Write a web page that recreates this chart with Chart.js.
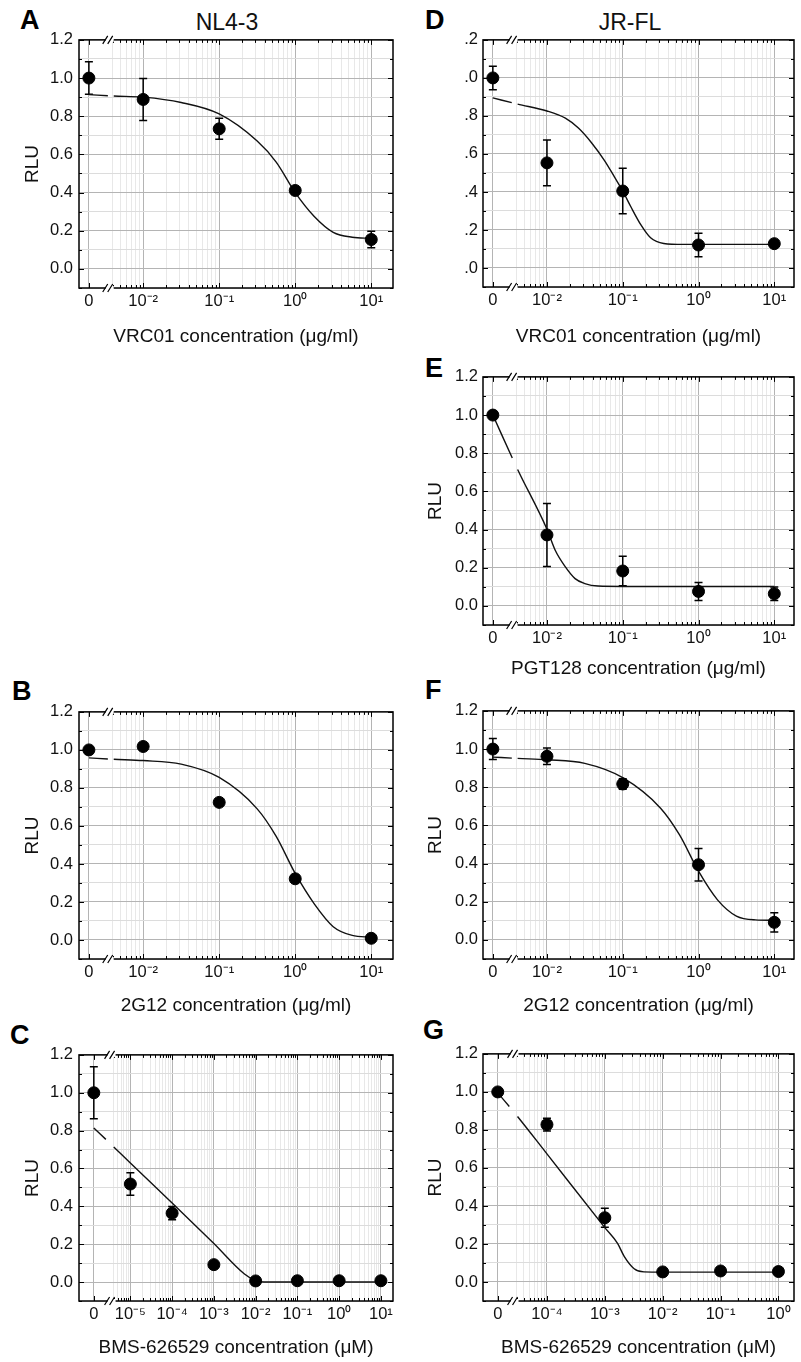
<!DOCTYPE html>
<html>
<head>
<meta charset="utf-8">
<script src="https://cdn.jsdelivr.net/npm/chart.js@4.4.1/dist/chart.umd.min.js"></script>
<style>
  body { margin: 0; background: #fff; width: 801px; height: 1362px; overflow: hidden; position: relative;
         font-family: "Liberation Sans", Arial, sans-serif; color: #111; }
  canvas { position: absolute; }
  .letter { position: absolute; font-weight: bold; font-size: 27px; line-height: 1; color: #000; }
  .strain { position: absolute; font-size: 23px; line-height: 1; transform: translateX(-50%); white-space: nowrap; }
</style>
</head>
<body>
<div class="letter" style="left:20px;top:6.5px">A</div>
<div class="letter" style="left:425px;top:6.5px">D</div>
<div class="letter" style="left:425px;top:354.5px">E</div>
<div class="letter" style="left:12px;top:678px">B</div>
<div class="letter" style="left:425px;top:676.5px">F</div>
<div class="letter" style="left:10px;top:1021.5px">C</div>
<div class="letter" style="left:423px;top:1016.5px">G</div>
<div class="strain" style="left:227px;top:11px">NL4-3</div>
<div class="strain" style="left:630px;top:11px">JR-FL</div>

<script>
// concentrations (0 = no inhibitor, shown left of the axis break)
const concMab = [0, 0.01, 0.1, 1, 10];               // µg/ml
const concBmsNL = [0, 1e-5, 1e-4, 1e-3, 1e-2, 1e-1, 1, 10]; // µM
const concBmsJR = [0, 1e-4, 1e-3, 1e-2, 1e-1, 1];    // µM

// NL4-3
const rluA = [1.00, 0.888, 0.734, 0.411, 0.154];
const errA = [0.085, 0.11, 0.055, 0.02, 0.043];
const rluB = [1.00, 1.018, 0.724, 0.322, 0.009];
const errB = [0, 0, 0, 0, 0];
const rluC = [1.00, 0.518, 0.364, 0.092, 0.006, 0.007, 0.007, 0.007];
const errC = [0.137, 0.06, 0.035, 0, 0, 0, 0, 0];

// JR-FL
const rluD = [1.00, 0.553, 0.405, 0.121, 0.128];
const errD = [0.062, 0.12, 0.12, 0.062, 0];
const rluE = [1.00, 0.372, 0.183, 0.076, 0.064];
const errE = [0, 0.165, 0.077, 0.047, 0.035];
const rluF = [1.00, 0.962, 0.817, 0.394, 0.092];
const errF = [0.055, 0.043, 0.027, 0.085, 0.05];
const rluG = [1.00, 0.828, 0.338, 0.053, 0.058, 0.055];
const errG = [0, 0.033, 0.05, 0, 0, 0];

// fitted curves
const fitConcA = [0, 0.0041, 0.01, 0.0316, 0.1, 0.316, 0.562, 1, 1.78, 3.16, 5.62, 10];
const fitRluA = [0.913, 0.906, 0.900, 0.872, 0.812, 0.67, 0.56, 0.40, 0.275, 0.192, 0.166, 0.16];
const fitConcB = [0, 0.0041, 0.01, 0.0316, 0.1, 0.316, 0.562, 1, 1.78, 3.16, 5.62, 10];
const fitRluB = [0.958, 0.951, 0.944, 0.925, 0.855, 0.69, 0.545, 0.35, 0.19, 0.07, 0.024, 0.015];
const fitConcC = [0, 4e-6, 1e-5, 1e-4, 1e-3, 5.4e-3, 1e-2, 1.6e-2, 1e-1, 1, 10];
const fitRluC = [0.814, 0.714, 0.629, 0.418, 0.204, 0.043, 0.008, 0.0, 0.0, 0.0, 0.0];
const fitConcD = [0, 0.0041, 0.01, 0.0175, 0.026, 0.0387, 0.0578, 0.078, 0.1, 0.128, 0.173, 0.233, 0.348, 0.63, 10];
const fitRluD = [0.895, 0.862, 0.826, 0.788, 0.736, 0.659, 0.564, 0.478, 0.405, 0.322, 0.228, 0.159, 0.129, 0.124, 0.124];
const fitConcE = [0, 0.0041, 0.01, 0.0129, 0.0173, 0.0235, 0.0316, 0.0473, 0.1, 1, 10];
const fitRluE = [1.0, 0.715, 0.402, 0.29, 0.207, 0.143, 0.117, 0.104, 0.102, 0.102, 0.102];
const fitConcF = [0, 0.0041, 0.01, 0.0316, 0.1, 0.316, 0.562, 1, 1.78, 3.16, 5.62, 10];
const fitRluF = [0.958, 0.951, 0.944, 0.925, 0.85, 0.69, 0.55, 0.36, 0.21, 0.125, 0.105, 0.103];
const fitConcG = [0, 3.1e-5, 1e-4, 1e-3, 1.66e-3, 2.16e-3, 3.21e-3, 4.74e-3, 1e-2, 1e-1, 1];
const fitRluG = [0.995, 0.871, 0.674, 0.286, 0.203, 0.135, 0.07, 0.053, 0.052, 0.052, 0.052];

const yTicks = [-0.1, 0.0, 0.1, 0.2, 0.3, 0.4, 0.5, 0.6, 0.7, 0.8, 0.9, 1.0, 1.1, 1.2];

const MAJOR = '#b4b4b4';
const MINOR_Y = '#dcdcdc';
const MINOR_X = '#e8e8e8';

Chart.defaults.font.family = '"Liberation Sans", Arial, sans-serif';
Chart.defaults.color = '#111';
Chart.defaults.animation = false;

const SUP = { '-': '\u207B', '0': '\u2070', '1': '\u00B9', '2': '\u00B2', '3': '\u00B3',
  '4': '\u2074', '5': '\u2075', '6': '\u2076', '7': '\u2077', '8': '\u2078', '9': '\u2079' };
const sup = (n) => String(n).split('').map((ch) => SUP[ch]).join('');

function toPos(c, zeroPos) {
  return c === 0 ? zeroPos : Math.log10(c);
}

// broken log axis: one tick for "0", then decades with minor ticks right of the break
function xTicksFor(p) {
  const list = [{ value: p.zeroPos, big: true }];
  for (let d = Math.floor(p.breakPos); d <= Math.ceil(p.xMax); d++) {
    for (let m = 1; m <= 9; m++) {
      const v = d + Math.log10(m);
      if (v > p.breakPos + 0.02 && v <= p.xMax + 1e-9) list.push({ value: v, big: m === 1 });
    }
  }
  return list;
}

const isMajorY = (v) => Math.round(v * 10) % 2 === 0;

const framePlugin = {
  id: 'frame',
  beforeDatasetsDraw(chart) {
    // error bars under the dots
    const { ctx, scales: { y } } = chart;
    const ds = chart.data.datasets[0];
    const meta = chart.getDatasetMeta(0);
    ctx.save();
    ctx.strokeStyle = '#000';
    ctx.lineWidth = 1.5;
    meta.data.forEach((pt, i) => {
      const e = ds.errors[i];
      if (!e) return;
      const y1 = y.getPixelForValue(ds.data[i].y + e);
      const y2 = y.getPixelForValue(ds.data[i].y - e);
      ctx.beginPath();
      ctx.moveTo(pt.x, y1); ctx.lineTo(pt.x, y2);
      ctx.moveTo(pt.x - 4, y1); ctx.lineTo(pt.x + 4, y1);
      ctx.moveTo(pt.x - 4, y2); ctx.lineTo(pt.x + 4, y2);
      ctx.stroke();
    });
    ctx.restore();
  },
  afterDraw(chart) {
    const { ctx, chartArea: a, scales: { x, y } } = chart;
    const opts = chart.options.plugins.frame;
    ctx.save();
    ctx.strokeStyle = '#000';
    ctx.lineWidth = 1;
    ctx.beginPath();
    x.ticks.forEach((t) => {
      const px = Math.round(x.getPixelForValue(t.value)) + 0.5;
      const len = t.big ? 5 : 3;
      ctx.moveTo(px, a.bottom); ctx.lineTo(px, a.bottom - len);
      ctx.moveTo(px, a.top); ctx.lineTo(px, a.top + len);
    });
    y.ticks.forEach((t) => {
      const py = Math.round(y.getPixelForValue(t.value)) + 0.5;
      const len = isMajorY(t.value) ? 5 : 3;
      ctx.moveTo(a.left, py); ctx.lineTo(a.left + len, py);
      ctx.moveTo(a.right, py); ctx.lineTo(a.right - len, py);
    });
    ctx.stroke();
    ctx.lineWidth = 1.5;
    ctx.strokeRect(a.left, a.top, a.right - a.left, a.bottom - a.top);

    // axis break marks
    const xb = x.getPixelForValue(opts.breakPos);
    [a.top, a.bottom].forEach((yy) => {
      ctx.fillStyle = '#fff';
      ctx.fillRect(xb - 4, yy - 2, 8, 4);
      ctx.beginPath();
      ctx.lineWidth = 1.2;
      ctx.moveTo(xb - 7, yy + 4); ctx.lineTo(xb - 2, yy - 4);
      ctx.moveTo(xb - 2, yy + 4); ctx.lineTo(xb + 3, yy - 4);
      ctx.stroke();
    });
    ctx.restore();
  }
};

function drawPanel(p) {
  const cv = document.createElement('canvas');
  cv.width = p.w;
  cv.height = p.h;
  cv.style.left = p.left + 'px';
  cv.style.top = p.top + 'px';
  document.body.appendChild(cv);

  new Chart(cv, {
    type: 'line',
    data: {
      datasets: [
        {
          data: p.conc.map((c, i) => ({ x: toPos(c, p.zeroPos), y: p.rlu[i] })),
          errors: p.err,
          showLine: false,
          pointRadius: 6,
          pointBackgroundColor: '#000',
          pointBorderColor: '#000',
          pointBorderWidth: 1
        },
        {
          data: p.fitConc.map((c, i) => ({ x: toPos(c, p.zeroPos), y: p.fitRlu[i] })),
          borderColor: '#111',
          borderWidth: 1.4,
          pointRadius: 0,
          fill: false,
          cubicInterpolationMode: 'monotone',
          segment: { borderDash: (ctx) => (ctx.p0DataIndex === 0 ? p.dash : undefined) }
        }
      ]
    },
    options: {
      responsive: false,
      events: [],
      layout: { padding: { left: 0, right: p.padRight, top: 12, bottom: 0 } },
      plugins: {
        legend: { display: false },
        tooltip: { enabled: false },
        frame: { breakPos: p.breakPos }
      },
      scales: {
        x: {
          type: 'linear',
          min: p.xMin,
          max: p.xMax,
          afterBuildTicks: (s) => { s.ticks = xTicksFor(p); },
          afterFit: (s) => { s.height = 62; },
          ticks: {
            autoSkip: false,
            maxRotation: 0,
            padding: 4,
            font: { size: 16.5 },
            callback: (v, i, ticks) => {
              if (Math.abs(v - p.zeroPos) < 1e-9) return '0';
              return ticks[i].big ? '10' + sup(Math.round(v)) : '';
            }
          },
          grid: {
            drawTicks: false,
            lineWidth: 1,
            color: (ctx) => (ctx.tick && ctx.tick.big ? MAJOR : MINOR_X)
          },
          border: { display: false },
          title: { display: true, text: p.xTitle, font: { size: 19 }, padding: { top: 0, bottom: p.xTitlePad } }
        },
        y: {
          type: 'linear',
          min: -0.1,
          max: 1.2,
          afterBuildTicks: (s) => { s.ticks = yTicks.map((v) => ({ value: v })); },
          afterFit: (s) => { s.width = p.yWidth; },
          ticks: {
            autoSkip: false,
            padding: p.yLabelPad,
            font: { size: 16.5 },
            callback: (v) => {
              const k = Math.round(v * 10);
              if (k < 0 || k % 2) return '';
              const s = (k / 10).toFixed(1);
              return p.clipLabels ? s.slice(1) : s;
            }
          },
          grid: {
            drawTicks: false,
            lineWidth: 1,
            color: (ctx) => (ctx.tick && isMajorY(ctx.tick.value) ? MAJOR : MINOR_Y)
          },
          border: { display: false },
          title: { display: p.yTitle, text: 'RLU', font: { size: 19 }, padding: { top: p.yTitlePad, bottom: 0 } }
        }
      }
    },
    plugins: [framePlugin]
  });
}

const leftCol = { left: 0, w: 400, yWidth: 79, padRight: 3, yLabelPad: 6, yTitlePad: 21.6 };
const rightCol = { left: 400, w: 401, yWidth: 83, padRight: 2, yLabelPad: 5, yTitlePad: 24.6 };
const mabAxis = { xMin: -2.844, zeroPos: -2.714, breakPos: -2.44 };

drawPanel({ ...leftCol, ...mabAxis, top: 24, h: 326, xMax: 1.286, yTitle: true,
  conc: concMab, rlu: rluA, err: errA, fitConc: fitConcA, fitRlu: fitRluA, dash: [19, 100],
  xTitle: 'VRC01 concentration (\u03BCg/ml)', xTitlePad: 1.6 });

drawPanel({ ...leftCol, ...mabAxis, top: 696, h: 325, xMax: 1.286, yTitle: true,
  conc: concMab, rlu: rluB, err: errB, fitConc: fitConcB, fitRlu: fitRluB, dash: [19, 100],
  xTitle: '2G12 concentration (\u03BCg/ml)', xTitlePad: 3.6 });

drawPanel({ ...leftCol, top: 1039, h: 324, xMin: -6.23, xMax: 1.29, zeroPos: -5.875, breakPos: -5.45, yTitle: true,
  conc: concBmsNL, rlu: rluC, err: errC, fitConc: fitConcC, fitRlu: fitRluC, dash: [16.6, 100],
  xTitle: 'BMS-626529 concentration (\u03BCM)', xTitlePad: 3.6 });

drawPanel({ ...rightCol, ...mabAxis, top: 25, h: 324, xMax: 1.26, yTitle: false, clipLabels: true,
  conc: concMab, rlu: rluD, err: errD, fitConc: fitConcD, fitRlu: fitRluD, dash: [19.5, 100],
  xTitle: 'VRC01 concentration (\u03BCg/ml)', xTitlePad: 0.6 });

drawPanel({ ...rightCol, ...mabAxis, top: 362, h: 325, xMax: 1.26, yTitle: true,
  conc: concMab, rlu: rluE, err: errE, fitConc: fitConcE, fitRlu: fitRluE, dash: [47, 100],
  xTitle: 'PGT128 concentration (\u03BCg/ml)', xTitlePad: 6.6 });

drawPanel({ ...rightCol, ...mabAxis, top: 696, h: 325, xMax: 1.26, yTitle: true,
  conc: concMab, rlu: rluF, err: errF, fitConc: fitConcF, fitRlu: fitRluF, dash: [19, 100],
  xTitle: '2G12 concentration (\u03BCg/ml)', xTitlePad: 3.6 });

drawPanel({ ...rightCol, top: 1039, h: 324, xMin: -5.105, xMax: 0.269, zeroPos: -4.85, breakPos: -4.56, yTitle: true,
  conc: concBmsJR, rlu: rluG, err: errG, fitConc: fitConcG, fitRlu: fitRluG, dash: [18, 100],
  xTitle: 'BMS-626529 concentration (\u03BCM)', xTitlePad: 3.6 });
</script>
</body>
</html>
